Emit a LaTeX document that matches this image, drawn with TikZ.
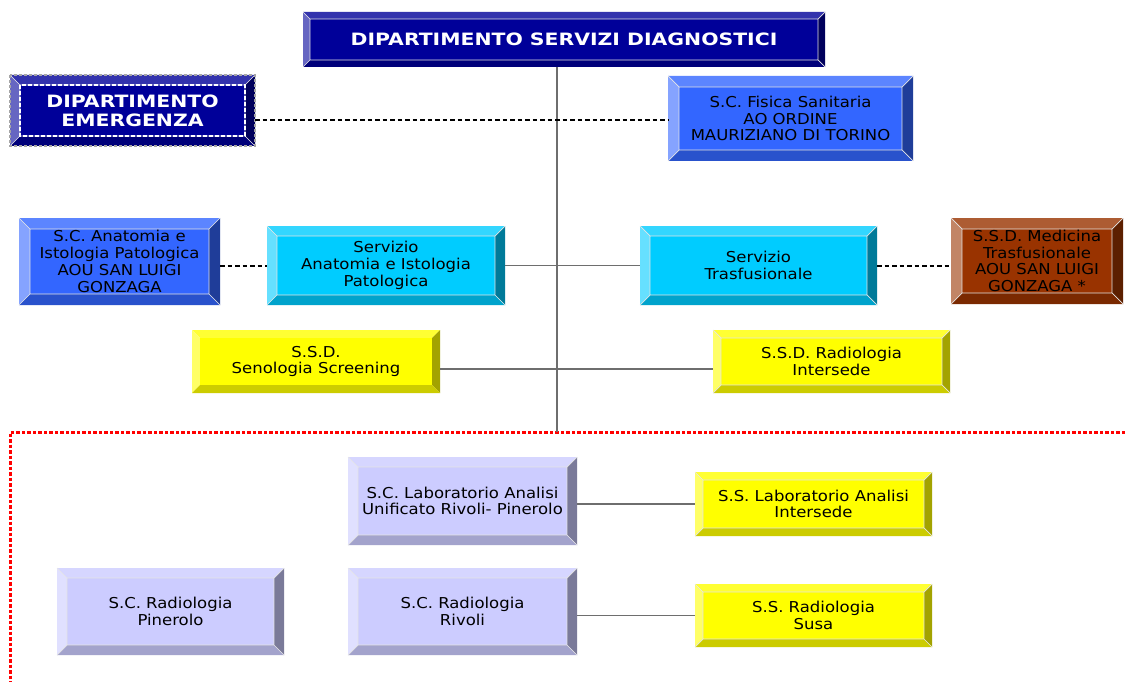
\documentclass[tikz,border=0pt]{standalone}
\usepackage{fontspec}
\setmainfont{DejaVu Sans}
\newfontfamily\verd[FakeStretch=1.1]{DejaVu Sans}
\newfontfamily\verdb[FakeStretch=1.2]{DejaVu Sans Bold}
\usetikzlibrary{calc}
\definecolor{navF}{HTML}{000099}\definecolor{navT}{HTML}{3333AD}\definecolor{navL}{HTML}{6666C2}\definecolor{navR}{HTML}{00005C}\definecolor{navB}{HTML}{00007A}
\definecolor{bluF}{HTML}{3366FF}\definecolor{bluT}{HTML}{5C85FF}\definecolor{bluL}{HTML}{85A3FF}\definecolor{bluR}{HTML}{1F3D99}\definecolor{bluB}{HTML}{2952CC}
\definecolor{cyaF}{HTML}{00CCFF}\definecolor{cyaT}{HTML}{33D6FF}\definecolor{cyaL}{HTML}{66E0FF}\definecolor{cyaR}{HTML}{007A99}\definecolor{cyaB}{HTML}{00A3CC}
\definecolor{broF}{HTML}{993300}\definecolor{broT}{HTML}{AD5C33}\definecolor{broL}{HTML}{C28566}\definecolor{broR}{HTML}{5C1F00}\definecolor{broB}{HTML}{7A2900}
\definecolor{yelF}{HTML}{FFFF00}\definecolor{yelT}{HTML}{FFFF33}\definecolor{yelL}{HTML}{FFFF66}\definecolor{yelR}{HTML}{A3A300}\definecolor{yelB}{HTML}{CCCC00}
\definecolor{purF}{HTML}{CCCCFF}\definecolor{purT}{HTML}{D6D6FF}\definecolor{purL}{HTML}{E0E0FF}\definecolor{purR}{HTML}{7A7A99}\definecolor{purB}{HTML}{A3A3CC}
\definecolor{linegray}{HTML}{6E6E6E}
\newcommand\bbox[9]{%
  \fill[#7T] (#2,#3) -- (#4,#3) -- (#4-#6,#3+#6) -- (#2+#6,#3+#6) -- cycle;
  \fill[#7L] (#2,#3) -- (#2+#6,#3+#6) -- (#2+#6,#5-#6) -- (#2,#5) -- cycle;
  \fill[#7R] (#4,#3) -- (#4,#5) -- (#4-#6,#5-#6) -- (#4-#6,#3+#6) -- cycle;
  \fill[#7B] (#2,#5) -- (#4,#5) -- (#4-#6,#5-#6) -- (#2+#6,#5-#6) -- cycle;
  \fill[#7F] (#2+#6,#3+#6) rectangle (#4-#6,#5-#6);
  \draw[bevline] (#2,#3) -- (#2+#6,#3+#6) (#4,#3) -- (#4-#6,#3+#6)
     (#2,#5) -- (#2+#6,#5-#6) (#4,#5) -- (#4-#6,#5-#6)
     (#2+#6,#3+#6) rectangle (#4-#6,#5-#6);
  \node[boxtext,#8,minimum width=#4pt-#2pt,minimum height=#5pt-#3pt] (#1) at ({(#2+#4)/2},{(#3+#5)/2}) {#9};
}
\tikzset{
  bevline/.style={draw=white!90!black,line width=0.7pt},
  boxtext/.style={inner sep=0pt,align=center,text=black,font=\verd\fontsize{15}{16.8}\selectfont},
  navtext/.style={text=white,font=\verdb\fontsize{17}{19}\selectfont},
  solidcon/.style={draw=linegray,line width=1.1pt},
  dashcon/.style={draw=black,line width=2pt,dash pattern=on 4.5pt off 3pt},
}
\begin{document}
\begin{tikzpicture}[x=1pt,y=-1pt]
\useasboundingbox (0,0) rectangle (1125,682);
\fill[white] (0,0) rectangle (1125,682);
% red dotted boundary
\draw[red,line width=3pt,dash pattern=on 3.5pt off 2pt] (1125,432) -- (10,432) -- (10,682);
% boxes
\bbox{tit}{303}{12}{825}{67}{7}{nav}{navtext}{DIPARTIMENTO SERVIZI DIAGNOSTICI}
\bbox{emg}{10}{75}{255}{146}{10}{nav}{navtext}{DIPARTIMENTO\\EMERGENZA}
\draw[gray!70,line width=1.5pt,dash pattern=on 3pt off 2pt] (10,75) rectangle (255,146);
\draw[white,line width=1.2pt,dash pattern=on 4pt off 2pt] (20,85) rectangle (245,136);
\bbox{fis}{668}{76}{913}{161}{11}{blu}{}{S.C. Fisica Sanitaria\\AO ORDINE\\MAURIZIANO DI TORINO}
\bbox{aou}{19}{218}{220}{305}{11}{blu}{}{S.C. Anatomia e\\Istologia Patologica\\AOU SAN LUIGI\\GONZAGA}
\bbox{anat}{267}{226}{505}{305}{10}{cya}{}{Servizio\\Anatomia e Istologia\\Patologica}
\bbox{tras}{640}{226}{877}{305}{10}{cya}{}{Servizio\\Trasfusionale}
\bbox{med}{951}{218}{1123}{304}{11}{bro}{}{S.S.D. Medicina\\Trasfusionale\\AOU SAN LUIGI\\GONZAGA *}
\begin{scope}[bevline/.style={draw=none}]
\bbox{sen}{192}{330}{440}{393}{8}{yel}{}{S.S.D.\\Senologia Screening}
\end{scope}
\bbox{rad}{713}{330}{950}{393}{8}{yel}{}{S.S.D. Radiologia\\Intersede}
\bbox{lab}{348}{457}{577}{545}{10}{pur}{}{S.C. Laboratorio Analisi\\Unificato Rivoli- Pinerolo}
\bbox{labi}{695}{472}{932}{536}{8}{yel}{}{S.S. Laboratorio Analisi\\Intersede}
\bbox{pin}{57}{568}{284}{655}{10}{pur}{}{S.C. Radiologia\\Pinerolo}
\bbox{riv}{348}{568}{577}{655}{10}{pur}{}{S.C. Radiologia\\Rivoli}
\bbox{susa}{695}{584}{932}{647}{8}{yel}{}{S.S. Radiologia\\Susa}
% connectors
\coordinate (vbot) at (557,432);
\draw[solidcon] (tit.south -| vbot) -- (vbot);
\draw[dashcon] ([yshift=-2pt]fis.west -| emg.east) -- ([yshift=-2pt]fis.west);
\draw[dashcon] (aou.east |- anat.west) -- (anat.west);
\draw[solidcon] (anat.east) -- (tras.west);
\draw[dashcon] (tras.east) -- (med.west |- tras.east);
\draw[solidcon] ([yshift=-7.5pt]sen.east) -- ([yshift=-7.5pt]rad.west);
\draw[solidcon] (lab.east |- labi.west) -- (labi.west);
\draw[solidcon] (riv.east |- susa.west) -- (susa.west);
\end{tikzpicture}
\end{document}
